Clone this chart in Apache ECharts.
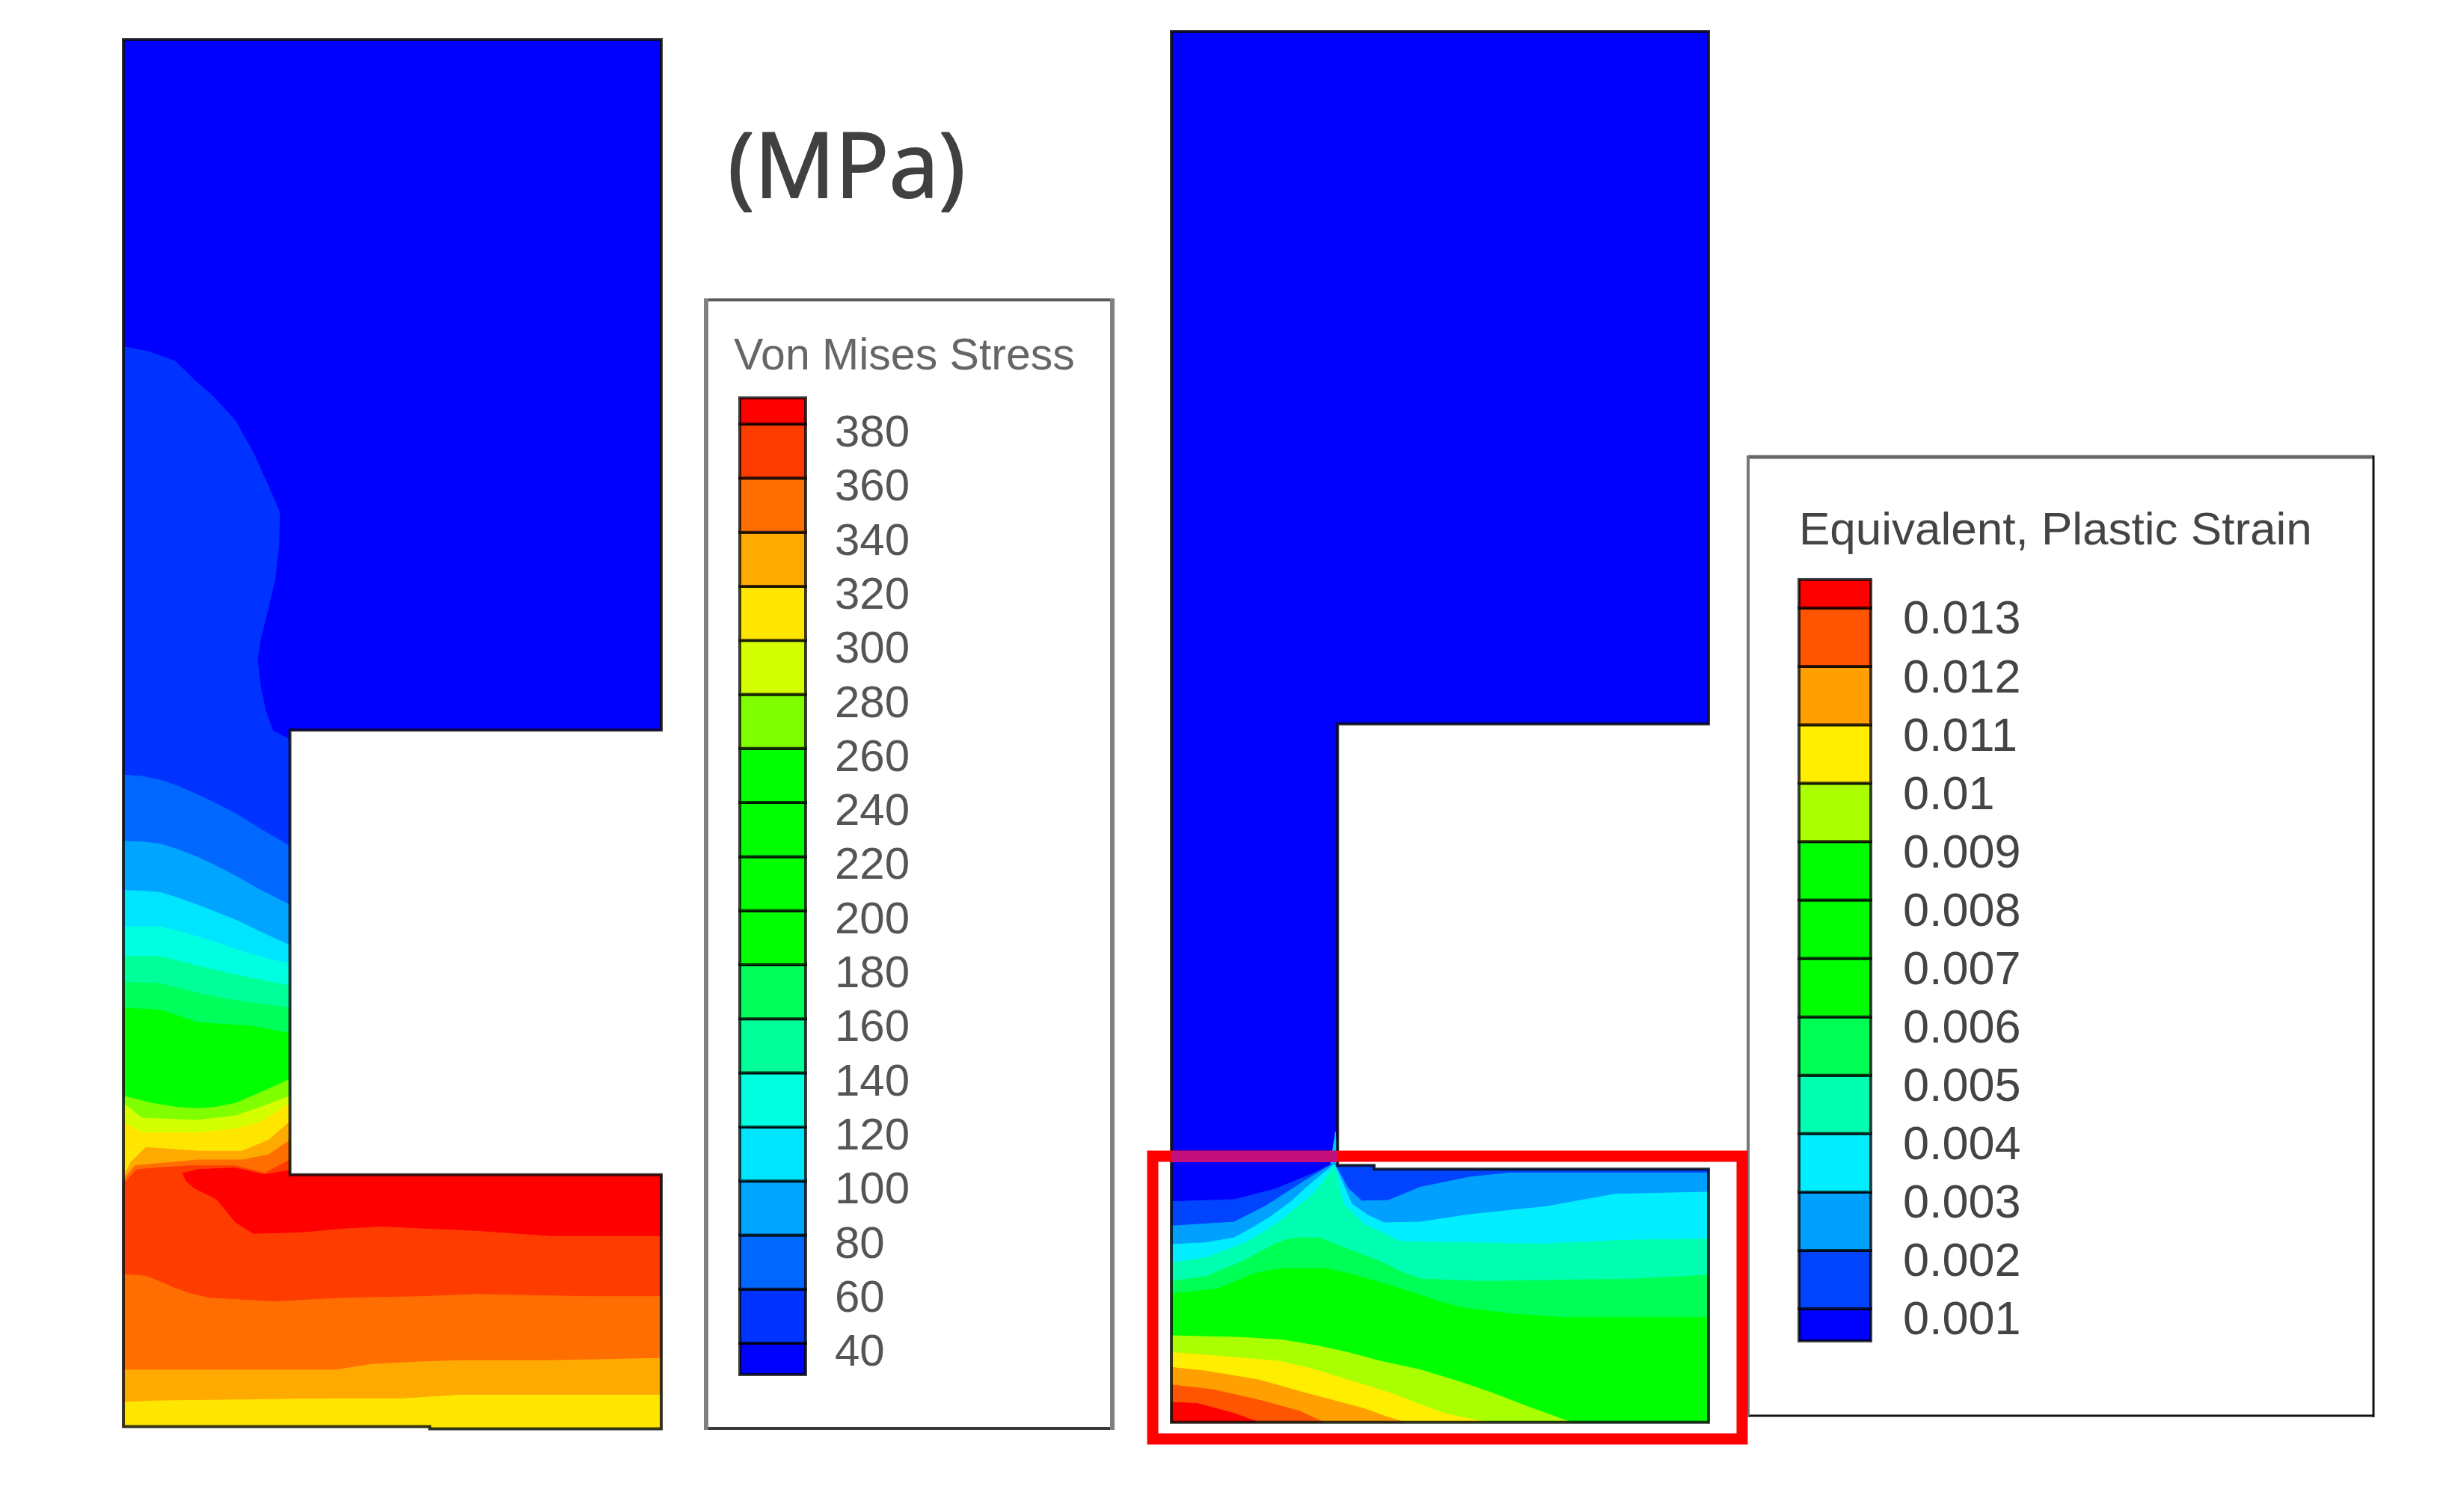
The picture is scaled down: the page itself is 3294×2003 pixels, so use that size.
<!DOCTYPE html>
<html><head><meta charset="utf-8">
<style>html,body{margin:0;padding:0;background:#fff}#c{width:3294px;height:2003px}</style>
<script src="https://cdn.jsdelivr.net/npm/echarts@6/dist/echarts.min.js"></script>
</head><body><div id="c"></div>
<script>
// ---- Legend scales
const stressLevels = [40,60,80,100,120,140,160,180,200,220,240,260,280,300,320,340,360,380];
const stressEnds = [28.4, 389.7];
const stressColors = ['#0000ff','#0033ff','#0068ff','#00a5ff','#00e5ff','#00ffe0','#00ff99','#00ff5a','#00ff00','#00ff00','#00ff00','#00ff00','#7fff00','#d4ff00','#ffe600','#ffaa00','#ff6e00','#ff3c00','#ff0000'];
const strainLevels = [0.001,0.002,0.003,0.004,0.005,0.006,0.007,0.008,0.009,0.01,0.011,0.012,0.013];
const strainEnds = [0.00045, 0.013487];
const strainColors = ['#0000ff','#0044ff','#00a0ff','#00eeff','#00ffb0','#00ff55','#00ff00','#00ff00','#00ff00','#aaff00','#ffee00','#ffa000','#ff5500','#ff0000'];

// ---- Stress field: panel outline and contour lines (panel units, y downward)
const stressOutline = [[50,-353],[1497,-353],[1497,587],[498,587],[498,1192],[1497,1192],[1497,1538],[874,1538],[874,1535],[50,1535]];
const stressClosureStem = [[498,1192],[1497,1192],[1497,1538],[874,1538],[874,1535],[50,1535]];
const stressClosureFoot = [[1497,1538],[874,1538],[874,1535],[50,1535]];
const stress40 = [[50,65],[120,72],[190,85],[240,110],[290,132],[350,165],[400,210],[440,255],[470,290],[468,335],[458,380],[440,420],[420,460],[410,490],[418,525],[432,560],[452,588],[498,600]];
const stress60 = [[50,648],[100,650],[150,655],[200,664],[250,675],[300,687],[350,700],[420,722],[498,745]];
const stress80 = [[50,738],[100,739],[150,742],[200,750],[250,760],[300,772],[350,785],[420,805],[498,825]];
const stress100 = [[50,805],[100,806],[150,808],[200,816],[250,825],[300,835],[350,845],[420,862],[498,880]];
const stress120 = [[50,855],[150,855],[200,861],[250,868],[300,876],[350,885],[420,896],[498,905]];
const stress140 = [[50,895],[150,895],[250,908],[350,920],[498,935]];
const stress160 = [[50,930],[150,932],[250,945],[350,955],[498,965]];
const stress180 = [[50,965],[150,968],[250,985],[400,990],[498,1000]];
const stress260 = [[50,1085],[90,1090],[130,1095],[190,1100],[250,1102],[300,1100],[350,1095],[420,1080],[498,1062]];
const stress280 = [[50,1095],[100,1115],[250,1118],[350,1112],[420,1100],[498,1085]];
const stress300 = [[50,1120],[100,1135],[250,1135],[350,1130],[420,1120],[498,1095]];
const stress320 = [[50,1195],[70,1175],[110,1155],[250,1160],[370,1160],[440,1145],[498,1120]];
const stress340 = [[50,1200],[80,1180],[250,1172],[370,1172],[440,1165],[498,1145]];
const stress360 = [[50,1205],[85,1185],[220,1180],[350,1180],[430,1190],[498,1172]];
const stress380 = [[210,1190],[218,1200],[240,1210],[300,1225],[325,1240],[350,1256],[400,1272],[530,1270],[640,1265],[740,1262],[1000,1268],[1200,1275],[1497,1275],[1497,1192],[498,1192],[498,1186],[430,1192],[350,1183],[250,1185]];
const stressFoot360 = [[50,1328],[110,1330],[145,1337],[180,1345],[230,1354],[280,1360],[460,1365],[640,1360],[850,1358],[1000,1355],[1300,1358],[1497,1358]];
const stressFoot340 = [[50,1458],[300,1458],[620,1458],[720,1450],[840,1447],[960,1445],[1200,1445],[1497,1442]];
const stressFoot320 = [[50,1502],[130,1500],[600,1497],[800,1497],[960,1492],[1497,1492]];

// ---- Strain field
const strainOutline = [[85,-4314],[1410,-4314],[1410,-1536],[495,-1536],[495,235],[585,235],[585,250],[1410,250],[1410,1265],[85,1265]];
const strainClosure = [[1410,1265],[85,1265]];
const strain1 = [[85,380],[240,372],[340,330],[430,270],[487,225],[495,235],[585,235],[585,250],[1410,250]];
const strain2 = [[85,478],[240,462],[320,395],[420,290],[487,225],[520,325],[555,378],[620,375],[700,322],[820,282],[920,265],[1410,265]];
const strain3 = [[85,552],[170,545],[240,525],[290,480],[330,440],[380,380],[420,320],[487,230],[530,390],[570,435],[610,465],[700,462],[820,432],[1010,400],[1180,350],[1410,342]];
const strain4 = [[85,625],[170,605],[260,550],[310,505],[360,450],[440,340],[487,240],[510,390],[560,470],[650,540],[800,545],[1000,550],[1200,535],[1410,530]];
const strain5 = [[85,700],[170,680],[260,620],[340,550],[370,532],[400,525],[450,525],[520,570],[600,620],[650,660],[700,690],[850,700],[1050,695],[1230,690],[1410,675]];
const strain6 = [[85,750],[200,730],[250,695],[290,670],[330,655],[370,648],[470,650],[520,668],[570,690],[680,745],[740,778],[800,805],[920,830],[1050,845],[1410,845]];
const strain9 = [[85,918],[260,925],[360,935],[450,960],[520,985],[600,1020],[700,1055],[800,1105],[880,1150],[960,1200],[1070,1265]];
const strain10 = [[85,985],[200,1000],[350,1020],[430,1050],[500,1085],[620,1145],[700,1195],[760,1230],[860,1265]];
const strain11 = [[85,1045],[170,1060],[300,1095],[420,1150],[560,1210],[610,1240],[660,1265]];
const strain12 = [[85,1115],[190,1135],[310,1180],[400,1220],[460,1265]];
const strain13 = [[85,1185],[150,1190],[240,1230],[300,1265]];
const strainSpike = [[478,228],[490,100],[495,228]];

const LEG_FONT = '"Liberation Sans", Arial, sans-serif';

function band(grid, pts, closure, color) {
  const all = pts.concat(closure || []);
  return {
    type:'custom', coordinateSystem:'cartesian2d', xAxisIndex:grid, yAxisIndex:grid,
    silent:true, clip:false, animation:false, encode:{x:0,y:1}, data:all,
    renderItem(params, api) {
      if (params.dataIndex !== 0) return null;
      return {type:'polygon', shape:{points:all.map(p=>api.coord(p))}, style:{fill:color, stroke:color, lineWidth:1}};
    }
  };
}
function outline(grid, pts) {
  return {
    type:'custom', coordinateSystem:'cartesian2d', xAxisIndex:grid, yAxisIndex:grid,
    silent:true, clip:false, animation:false, encode:{x:0,y:1}, data:pts, z:5,
    renderItem(params, api) {
      if (params.dataIndex !== 0) return null;
      return {type:'polygon', shape:{points:pts.map(p=>api.coord(p))}, style:{fill:'none', stroke:'rgba(10,10,10,0.8)', lineWidth:4}};
    }
  };
}
function legendCells(grid, levels, ends, colors) {
  const edges = [ends[0]].concat(levels, [ends[1]]);
  const data = colors.map((c,i)=>[0, edges[i], edges[i+1]]);
  return {
    type:'custom', coordinateSystem:'cartesian2d', xAxisIndex:grid, yAxisIndex:grid,
    silent:true, clip:false, animation:false, encode:{x:0,y:[1,2]}, data,
    renderItem(params, api) {
      const a = api.coord([0, api.value(2)]), b = api.coord([1, api.value(1)]);
      return {type:'rect', shape:{x:a[0], y:a[1], width:b[0]-a[0], height:b[1]-a[1]},
        style:{fill:colors[params.dataIndex], stroke:'rgba(0,0,0,0.75)', lineWidth:4}};
    }
  };
}
const S = stressColors, E = strainColors;
const series = [
  band(0, stressOutline, null, S[0]),
  band(0, stress40, stressClosureStem, S[1]),
  band(0, stress60, stressClosureStem, S[2]),
  band(0, stress80, stressClosureStem, S[3]),
  band(0, stress100, stressClosureStem, S[4]),
  band(0, stress120, stressClosureStem, S[5]),
  band(0, stress140, stressClosureStem, S[6]),
  band(0, stress160, stressClosureStem, S[7]),
  band(0, stress180, stressClosureStem, S[8]),
  band(0, stress260, stressClosureStem, S[12]),
  band(0, stress280, stressClosureStem, S[13]),
  band(0, stress300, stressClosureStem, S[14]),
  band(0, stress320, stressClosureStem, S[15]),
  band(0, stress340, stressClosureStem, S[16]),
  band(0, stress360, stressClosureStem, S[17]),
  band(0, stress380, null, S[18]),
  band(0, stressFoot360, stressClosureFoot, S[16]),
  band(0, stressFoot340, stressClosureFoot, S[15]),
  band(0, stressFoot320, stressClosureFoot, S[14]),
  outline(0, stressOutline),
  band(1, strainOutline, null, E[0]),
  band(1, strainSpike, null, '#00c8ff'),
  band(1, strain1, strainClosure, E[1]),
  band(1, strain2, strainClosure, E[2]),
  band(1, strain3, strainClosure, E[3]),
  band(1, strain4, strainClosure, E[4]),
  band(1, strain5, strainClosure, E[5]),
  band(1, strain6, strainClosure, E[6]),
  band(1, strain9, [[85,1265]], E[9]),
  band(1, strain10, [[85,1265]], E[10]),
  band(1, strain11, [[85,1265]], E[11]),
  band(1, strain12, [[85,1265]], E[12]),
  band(1, strain13, [[85,1265]], E[13]),
  outline(1, strainOutline),
  legendCells(2, stressLevels, stressEnds, stressColors),
  legendCells(3, strainLevels, strainEnds, strainColors)
];
const hiddenX = (min,max,gridIndex)=>({type:'value',gridIndex,min,max,show:false});
const hiddenY = (min,max,gridIndex)=>({type:'value',gridIndex,min,max,inverse:true,show:false});
const cellY = (gridIndex, ends)=>({type:'value',gridIndex,min:ends[0],max:ends[1],show:false});
// Tick labels sit a little below their cell boundary in the reference, so the label axis is offset from the cell axis.
function labelY(gridIndex, ends, shift, levels, color, fs, margin) {
  return {type:'value',gridIndex,min:ends[0]+shift,max:ends[1]+shift,position:'right',
    axisLine:{show:false},axisTick:{show:false},splitLine:{show:false},
    axisLabel:{show:true,customValues:levels,showMinLabel:true,showMaxLabel:true,hideOverlap:false,margin,align:'left',
      fontFamily:LEG_FONT,fontSize:fs,color,formatter:v=>String(v)}};
}
const line = (x1,y1,x2,y2,stroke,w)=>({type:'line',z:50,silent:true,shape:{x1,y1,x2,y2},style:{stroke,lineWidth:w}});
const text = (x,y,t,size,fill,font,extra)=>({type:'text',z:60,silent:true,x,y,style:Object.assign({text:t,font:size+'px '+font,fill,textVerticalAlign:'middle',textAlign:'left'},extra||{})});

const option = {
  backgroundColor:'#fff', animation:false,
  grid:[
    {left:165,top:53,width:719,height:1859.5,containLabel:false},
    {left:1566,top:42,width:718,height:1860},
    {left:989,top:532,width:88,height:1306},
    {left:2405,top:775,width:96,height:1018}
  ],
  xAxis:[hiddenX(50,1497,0),hiddenX(85,1410,1),hiddenX(0,1,2),hiddenX(0,1,3)],
  yAxis:[hiddenY(-353,1540,0),hiddenY(-4314,1266,1),
    cellY(2,stressEnds),cellY(3,strainEnds),
    labelY(2,stressEnds,3.73,stressLevels,'#555',60,39),
    labelY(3,strainEnds,0.000218,strainLevels,'#444',63,43)],
  series,
  graphic:{elements:[
    line(944,401,1487,401,'#5a5a5a',4),line(944,1910,1487,1910,'#3a3a3a',4),
    line(944,399,944,1912,'#808080',6),line(1487,399,1487,1912,'#808080',6),
    line(2337,611,3173,611,'#666',5),line(3173,609,3173,1895,'#111',3),
    line(2337,1893,3173,1893,'#111',3),line(2337,609,2337,1893,'#777',4),
    {type:'rect',z:70,silent:true,shape:{x:1541,y:1546,width:788,height:378},style:{fill:'none',stroke:'#ff0000',lineWidth:15}},
    {type:'rect',z:71,silent:true,shape:{x:1566,y:1539,width:222,height:15},style:{fill:'#c4107c'}},
    text(973,230,'(MPa)',120,'#404040','"Open Sans", sans-serif',{stroke:'#404040',lineWidth:2,shadowColor:'rgba(0,0,0,0.4)',shadowBlur:7,shadowOffsetX:3,shadowOffsetY:4}),
    text(981,478,'Von Mises Stress',59,'#666',LEG_FONT),
    text(2405,711,'Equivalent, Plastic Strain',62,'#444',LEG_FONT)
  ]}
};
echarts.init(document.getElementById('c'),null,{renderer:'canvas'}).setOption(option);
</script></body></html>
